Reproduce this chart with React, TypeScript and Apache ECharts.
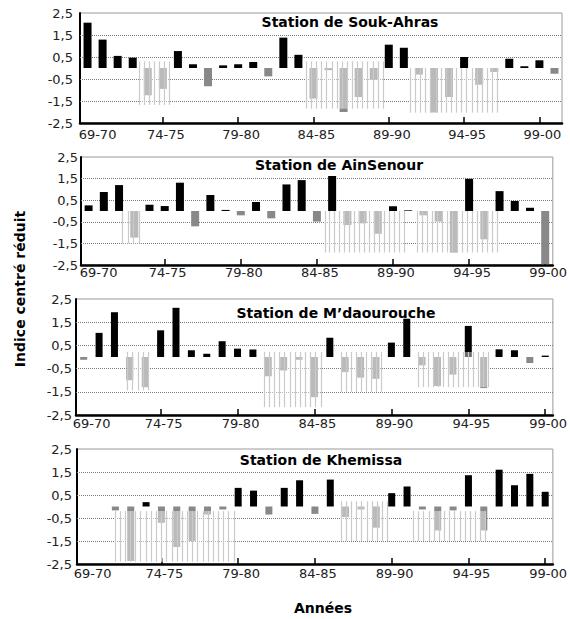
import React, { useEffect, useRef } from 'react';
import * as echarts from 'echarts';

// ---- categories ----
const YEARS: string[] = [
  '69-70', '70-71', '71-72', '72-73', '73-74', '74-75', '75-76', '76-77', '77-78', '78-79',
  '79-80', '80-81', '81-82', '82-83', '83-84', '84-85', '85-86', '86-87', '87-88', '88-89',
  '89-90', '90-91', '91-92', '92-93', '93-94', '94-95', '95-96', '96-97', '97-98', '98-99',
  '99-00', '00-01',
];
const YEARS_31: string[] = YEARS.slice(0, 31);

// ---- series values (indice centré réduit) ----
const SOUK_AHRAS: (number | null)[] = [
  2.06, 1.29, 0.55, 0.47, -1.24, -0.95, 0.77, 0.17, -0.83, 0.12,
  0.17, 0.27, -0.38, 1.38, 0.6, -1.39, -0.1, -2.0, -1.32, -0.53,
  1.06, 0.92, -0.3, -2.02, -1.32, 0.5, -0.76, -0.18, 0.42, 0.08,
  0.35, -0.26,
];
const AIN_SENOUR: (number | null)[] = [
  0.26, 0.88, 1.2, -1.23, 0.29, 0.23, 1.31, -0.71, 0.74, 0.05,
  -0.2, 0.42, -0.34, 1.23, 1.43, -0.49, 1.62, -0.65, -0.57, -1.05,
  0.22, 0.03, -0.2, -0.49, -1.92, 1.49, -1.31, 0.92, 0.46, 0.15,
  -2.46,
];
const MDAOUROUCHE: (number | null)[] = [
  -0.12, 1.04, 1.93, -1.0, -1.3, 1.15, 2.12, 0.29, 0.14, 0.68,
  0.36, 0.32, -0.83, -0.58, -0.12, -1.73, 0.83, -0.65, -0.89, -0.94,
  0.62, 1.65, -0.36, -1.25, -0.76, 1.34, -1.34, 0.33, 0.29, -0.26,
  0.06,
];
const KHEMISSA: (number | null)[] = [
  null, null, -0.17, -2.37, 0.19, -0.71, -1.76, -1.5, -0.35, -0.13,
  0.81, 0.69, -0.35, 0.81, 1.14, -0.32, 1.17, -0.46, -0.13, -0.92,
  0.58, 0.87, -0.13, -1.04, -0.17, 1.36, -1.04, 1.6, 0.92, 1.42,
  0.64,
];

// ---- dry (hatched) periods: [from, to] in category units, [top, bottom] in index units ----
const SOUK_AHRAS_DRY: number[][] = [
  [3.45, 5.4, 0.3, -1.68],
  [14.5, 19.6, 0.3, -1.85],
  [21.4, 27.2, 0, -2.03],
];
const AIN_SENOUR_DRY: number[][] = [
  [2.2, 3.3, 0, -1.5],
  [15.5, 20.7, 0, -1.92],
  [21.6, 26.8, 0, -1.92],
];
const MDAOUROUCHE_DRY: number[][] = [
  [2.8, 4.2, 0.22, -1.44],
  [11.7, 15.4, 0.22, -2.16],
  [16.75, 19.35, 0.22, -1.5],
  [21.7, 26.3, 0.22, -1.3],
];
const KHEMISSA_DRY: number[][] = [
  [1.95, 9.7, -0.2, -2.4],
  [16.7, 19.7, 0.23, -1.5],
  [21.4, 26.1, -0.2, -1.5],
];

// ---- axis ----
const Y_MIN = -2.5;
const Y_MAX = 2.5;
const Y_STEP = 0.5;
const GRID_LINES: number[] = [1.5, 0.5, -0.5, -1.5];
const LABEL_EVERY = 5;

const TITLES: string[] = [
  'Station de Souk-Ahras',
  'Station de AinSenour',
  "Station de M\u2019daourouche",
  'Station de Khemissa',
];

const PANELS = [
  { cats: YEARS, values: SOUK_AHRAS, dry: SOUK_AHRAS_DRY },
  { cats: YEARS_31, values: AIN_SENOUR, dry: AIN_SENOUR_DRY },
  { cats: YEARS_31, values: MDAOUROUCHE, dry: MDAOUROUCHE_DRY },
  { cats: YEARS_31, values: KHEMISSA, dry: KHEMISSA_DRY },
];

// layout (pixels)
const GRIDS = [
  { left: 80, top: 13, width: 482, height: 110 },
  { left: 81, top: 157, width: 478, height: 108 },
  { left: 76, top: 299, width: 483, height: 116 },
  { left: 77, top: 449, width: 481, height: 115 },
];
const BAR_W = [8, 8, 7, 7];
const Y_LABEL_MARGIN = [7, 3, 4, 5];
const X_LABEL_MARGIN = [5, 1, 2, 3];
const FIRST_LABEL_PAD = [20, 20, 16, 16];
const LABEL_PAD = 6;
const TITLE_POS = [
  [350, 22],
  [339, 165],
  [336, 313],
  [321, 460],
];

const TICK_FONT = 'DejaVu Sans';

function hatchRender(params: any, api: any) {
  const base = api.value(0);
  const top = api.value(1);
  const from = api.value(2);
  const to = api.value(3);
  const bottom = api.value(4);
  const ct = api.coord([base, top]);
  const cb = api.coord([base, bottom]);
  const band = api.size([1, 0])[0];
  const x0 = ct[0] + (from - base) * band;
  const x1 = ct[0] + (to - base) * band;
  const n = Math.max(1, Math.round((x1 - x0) / (band / 3)));
  const children: any[] = [
    {
      type: 'rect',
      shape: { x: x0, y: ct[1], width: x1 - x0, height: cb[1] - ct[1] },
      style: { fill: 'rgba(255,255,255,0.42)' },
    },
  ];
  for (let k = 0; k <= n; k++) {
    const x = Math.round(x0 + ((x1 - x0) * k) / n) + 0.5;
    children.push({
      type: 'line',
      shape: { x1: x, y1: ct[1], x2: x, y2: cb[1] },
      style: { stroke: '#cacaca', lineWidth: 1.2 },
    });
  }
  return { type: 'group', children };
}

export default function App() {
  const ref = useRef<HTMLDivElement>(null);

  useEffect(() => {
    if (!ref.current) return;
    const chart = echarts.init(ref.current, undefined, { renderer: 'svg' });

    const grid = GRIDS.map((g) => ({
      ...g,
      show: true,
      borderColor: '#9a9a9a',
      borderWidth: 1,
      backgroundColor: 'transparent',
    }));

    const labelText = { color: '#222', fontFamily: TICK_FONT, fontSize: 13 };

    const xAxis = PANELS.map((p, i) => ({
      type: 'category',
      gridIndex: i,
      data: p.cats,
      boundaryGap: true,
      axisLine: { show: true, onZero: false, lineStyle: { color: '#000', width: 2.5 } },
      axisTick: {
        show: true,
        alignWithLabel: true,
        inside: true,
        length: 6,
        interval: (idx: number) => idx % LABEL_EVERY === 0 && idx !== 0,
        lineStyle: { color: '#000', width: 1.5 },
      },
      axisLabel: {
        interval: (idx: number) => idx % LABEL_EVERY === 0,
        ...labelText,
        margin: X_LABEL_MARGIN[i],
        formatter: (v: string, idx: number) => (idx === 0 ? `{f|${v}}` : `{n|${v}}`),
        rich: {
          f: { ...labelText, padding: [0, 0, 0, FIRST_LABEL_PAD[i]] },
          n: { ...labelText, padding: [0, 0, 0, LABEL_PAD] },
        },
      },
      splitLine: { show: false },
    }));

    const yAxis = PANELS.map((p, i) => ({
      type: 'value',
      gridIndex: i,
      min: Y_MIN,
      max: Y_MAX,
      interval: Y_STEP,
      axisLine: { show: true, lineStyle: { color: '#000', width: 2 } },
      axisTick: { show: false },
      splitLine: { show: false },
      axisLabel: {
        ...labelText,
        margin: Y_LABEL_MARGIN[i],
        formatter: (v: number) =>
          Math.abs(Math.round(v * 2)) % 2 === 1 ? String(v).replace('.', ',') : '',
      },
    }));

    const series: any[] = [];
    PANELS.forEach((p, i) => {
      series.push({
        type: 'bar',
        xAxisIndex: i,
        yAxisIndex: i,
        data: p.values,
        barWidth: BAR_W[i],
        z: 2,
        itemStyle: {
          color: (prm: any) => (prm.value >= 0 ? '#000000' : '#888888'),
        },
        markLine: {
          silent: true,
          symbol: 'none',
          z: 1,
          label: { show: false },
          lineStyle: { type: 'dotted', color: '#7a7a7a', width: 1 },
          data: GRID_LINES.map((v) => ({ yAxis: v })),
        },
      });
      series.push({
        type: 'custom',
        xAxisIndex: i,
        yAxisIndex: i,
        z: 3,
        silent: true,
        renderItem: hatchRender,
        encode: { x: 0, y: 1 },
        data: p.dry.map((r) => [Math.round(r[0]), r[2], r[0], r[1], r[3]]),
      });
    });

    const graphic: any[] = TITLES.map((t, i) => ({
      type: 'text',
      x: TITLE_POS[i][0],
      y: TITLE_POS[i][1],
      z: 10,
      style: {
        text: t,
        fill: '#000',
        font: 'bold 14px "DejaVu Sans"',
        textAlign: 'center',
        textVerticalAlign: 'middle',
      },
    }));
    graphic.push({
      type: 'text',
      x: 20,
      y: 289,
      rotation: Math.PI / 2,
      style: {
        text: 'Indice centré réduit',
        fill: '#000',
        font: 'bold 14px "DejaVu Sans"',
        textAlign: 'center',
        textVerticalAlign: 'middle',
      },
    });
    graphic.push({
      type: 'text',
      x: 323,
      y: 608,
      style: {
        text: 'Années',
        fill: '#000',
        font: 'bold 14px "DejaVu Sans"',
        textAlign: 'center',
        textVerticalAlign: 'middle',
      },
    });

    chart.setOption({
      animation: false,
      backgroundColor: '#ffffff',
      grid,
      xAxis,
      yAxis,
      series,
      graphic,
    });

    return () => chart.dispose();
  }, []);

  return (
    <div
      ref={ref}
      style={{ position: 'fixed', left: 0, top: 0, width: 570, height: 619 }}
    />
  );
}
